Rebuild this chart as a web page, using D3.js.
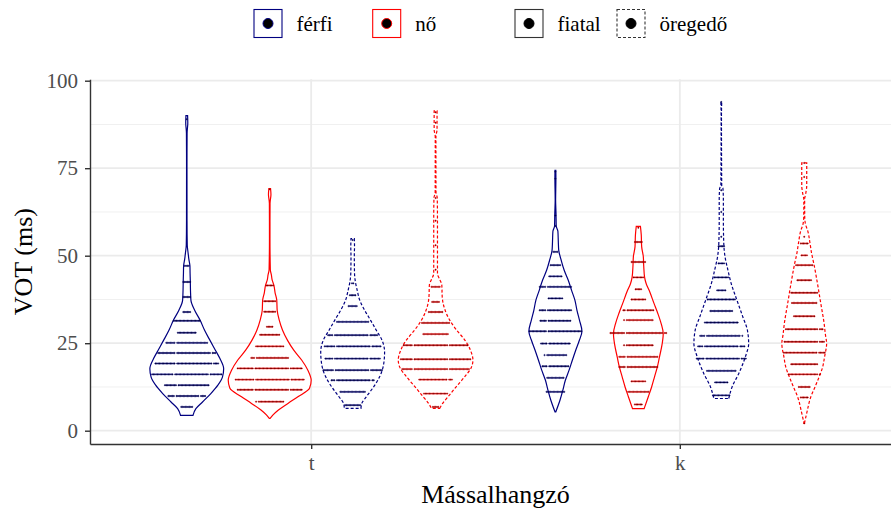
<!DOCTYPE html>
<html>
<head>
<meta charset="utf-8">
<script src="https://cdn.jsdelivr.net/npm/d3@7"></script>
<style>
  body { margin: 0; background: #fff; }
  svg { display: block; }
  text { font-family: "Liberation Serif", "Times New Roman", serif; }
</style>
</head>
<body>
<svg id="chart" width="891" height="514"></svg>
<script>
// ---- categories and tick labels ----
const consonants = ["t", "k"];
const sexes = ["férfi", "nő"];
const ages = ["fiatal", "öregedő"];
const yTicks = [0, 25, 50, 75, 100];
const yMinorTicks = [12.5, 37.5, 62.5, 87.5];
const xTitle = "Mássalhangzó";
const yTitle = "VOT (ms)";

// ---- violin profiles: [VOT (ms), relative density] ----
const densTFerfiFiatal = [[4.4,0.15],[6.3,0.22],[8.2,0.38],[10.6,0.58],[13,0.75],[15.3,0.86],[17.7,0.89],[20.6,0.8],[23,0.69],[25.8,0.56],[28.7,0.43],[31.6,0.32],[34.4,0.19],[37.3,0.1],[40,0.09],[43,0.085],[45,0.08],[47,0.077],[49,0.05],[51,0.03],[53,0.012],[60,0.006],[75,0.005],[85,0.008],[88,0.025],[90,0.02]];
const densTNoFiatal = [[3.5,0.01],[4.5,0.08],[5.9,0.21],[7.8,0.44],[9.7,0.68],[12.1,0.96],[14.4,1.0],[17.3,0.92],[20.2,0.77],[23,0.58],[25.8,0.43],[28.7,0.31],[31.6,0.23],[34.4,0.18],[37.3,0.17],[39.4,0.13],[41.6,0.1],[43,0.06],[44.5,0.04],[46,0.015],[55,0.006],[65,0.008],[67.5,0.03],[69.2,0.02]];
const densTFerfiOreg = [[6.4,0.2],[7.8,0.22],[9.7,0.33],[12.6,0.51],[15.4,0.65],[19.2,0.75],[22.5,0.77],[25.8,0.71],[28.7,0.57],[31.6,0.43],[34.4,0.29],[37.3,0.17],[40.1,0.11],[43,0.06],[45,0.045],[50,0.04],[52.5,0.045],[54.9,0.04]];
const densTNoOreg = [[6.4,0.1],[7.8,0.17],[9.7,0.3],[12.6,0.5],[15.4,0.7],[18.3,0.87],[20.2,0.9],[23,0.84],[25.8,0.71],[28.7,0.51],[31.6,0.34],[34.4,0.23],[38.2,0.16],[41.6,0.15],[43.2,0.1],[44.9,0.045],[50,0.045],[55,0.045],[60,0.045],[66.5,0.04],[68,0.01],[84,0.008],[86,0.035],[91.4,0.035]];
const densKFerfiFiatal = [[5.4,0.01],[8.7,0.11],[11.6,0.18],[14.4,0.24],[17.3,0.33],[20.2,0.41],[23,0.49],[25.9,0.58],[28.4,0.64],[31.6,0.58],[34.4,0.52],[37.3,0.47],[40.1,0.39],[43,0.31],[45.9,0.21],[48.7,0.14],[51.6,0.08],[54,0.07],[57,0.06],[58.5,0.02],[62,0.015],[66,0.005],[72,0.012],[74.4,0.01]];
const densKNoFiatal = [[6.3,0.14],[9.7,0.24],[12.5,0.32],[15.4,0.39],[18.3,0.46],[21.1,0.51],[24.5,0.57],[27.8,0.6],[30.6,0.55],[33.5,0.47],[36.3,0.38],[40.1,0.26],[42,0.19],[43.9,0.15],[47,0.13],[49.7,0.12],[52.6,0.08],[56,0.07],[58.4,0.05]];
const densKFerfiOreg = [[9.2,0.18],[12.5,0.26],[16.3,0.42],[21.1,0.58],[24.9,0.66],[28.7,0.63],[32.5,0.52],[38.2,0.35],[42,0.24],[45.9,0.16],[49.7,0.09],[53.5,0.06],[60,0.05],[66,0.05],[69.2,0.04],[70,0.01],[90,0.004],[93.9,0.01]];
const densKNoOreg = [[2.1,0.005],[5,0.06],[9.7,0.16],[12.5,0.26],[15.4,0.36],[18,0.44],[21.1,0.49],[24.9,0.54],[27.5,0.51],[30.6,0.48],[36.3,0.4],[42,0.32],[47.8,0.23],[50.5,0.18],[53.5,0.14],[57.3,0.08],[59,0.03],[61.1,0.012],[66,0.01],[68,0.04],[70,0.06],[76.5,0.06]];

// ---- dot rows: [VOT bin (ms), dot counts of each stacked run] ----
const dotsTFerfiFiatal = [[89,[1]],[47.1,[4]],[42.5,[6]],[38.2,[6]],[33.9,[6]],[31.4,[20]],[28.0,[14]],[25.1,[7,23]],[22.2,[13,25,3]],[19.2,[15,26,4]],[16.1,[16,25,9]],[13.0,[9,23]],[9.9,[5,17,4]],[6.8,[9]]];
const dotsTNoFiatal = [[69,[1]],[41.5,[6]],[37,[9]],[34,[9]],[29.7,[5]],[27.4,[15]],[24.1,[21]],[20.8,[3,24]],[17.8,[12,25,9]],[14.6,[14,25,10]],[11.7,[12,25,9]],[8.3,[1,19]]];
const dotsTFerfiOreg = [[54.5,[1]],[42.1,[2]],[38.7,[5]],[35.6,[7]],[31.1,[24]],[27.3,[4,25,6]],[24.1,[8,25,7]],[20.6,[6,25,8]],[17.3,[8,25,9]],[14.4,[3,25,2]],[11.1,[19]],[7.3,[12]]];
const dotsTNoOreg = [[91,[1]],[88,[1]],[66.5,[1]],[60,[1]],[53,[1]],[46,[1]],[41.1,[7]],[36.8,[6]],[33.9,[11]],[30.8,[21]],[27.6,[19]],[24.4,[7,25,14]],[20.4,[9,25,16]],[17.6,[8,25,15]],[14.6,[21,3]],[10.6,[18]],[6.8,[5]]];
const dotsKFerfiFiatal = [[74,[1]],[72,[1]],[61.5,[1]],[58.5,[1]],[51.1,[4]],[47.3,[8]],[44.1,[10]],[41.1,[5,18]],[37.8,[11]],[34.4,[5,18]],[31.4,[5,17]],[28.4,[13,25]],[24.9,[5,16]],[21.6,[1,15]],[18.4,[4,15]],[15.1,[13]],[11.1,[14]]];
const dotsKNoFiatal = [[58,[1]],[53.9,[6]],[48.2,[11]],[43.8,[8]],[40.4,[5]],[37.5,[11]],[34.4,[2,20]],[31.6,[1,20]],[27.9,[11,27,2]],[24.4,[1,20]],[21.1,[5,23]],[18.2,[5,23]],[14.1,[11]],[11.1,[16]],[7.5,[6]]];
const dotsKFerfiOreg = [[93.9,[1]],[68.7,[1]],[62.5,[1]],[55.4,[1]],[52.7,[5]],[47.8,[5]],[43.8,[11]],[40.1,[7]],[37.5,[21]],[34.2,[17]],[30.9,[25]],[27.1,[4,25,1]],[24.1,[4,25,4]],[20.6,[6,25,4]],[17.1,[22]],[13.8,[10]],[10.1,[13]]];
const dotsKNoOreg = [[76.5,[1]],[72.5,[1]],[55.4,[1]],[53.5,[6]],[50.1,[5]],[47.3,[13]],[43,[11]],[39.4,[20]],[36.5,[19]],[32.7,[16]],[29,[24,3]],[25.4,[25,4]],[22.3,[25,5]],[19,[20]],[16.1,[22,1]],[12.5,[9]],[9.5,[6]],[2.1,[1]]];

// ---- assemble one record per violin ----
const violins = [
  { cons: "t", sex: "férfi", age: "fiatal",  dens: densTFerfiFiatal, dots: dotsTFerfiFiatal },
  { cons: "t", sex: "nő",    age: "fiatal",  dens: densTNoFiatal,    dots: dotsTNoFiatal },
  { cons: "t", sex: "férfi", age: "öregedő", dens: densTFerfiOreg,   dots: dotsTFerfiOreg },
  { cons: "t", sex: "nő",    age: "öregedő", dens: densTNoOreg,      dots: dotsTNoOreg },
  { cons: "k", sex: "férfi", age: "fiatal",  dens: densKFerfiFiatal, dots: dotsKFerfiFiatal },
  { cons: "k", sex: "nő",    age: "fiatal",  dens: densKNoFiatal,    dots: dotsKNoFiatal },
  { cons: "k", sex: "férfi", age: "öregedő", dens: densKFerfiOreg,   dots: dotsKFerfiOreg },
  { cons: "k", sex: "nő",    age: "öregedő", dens: densKNoOreg,      dots: dotsKNoOreg }
];

// ---- layout ----
const panel = { left: 90, right: 901, top: 79.3, bottom: 444 };
const svg = d3.select("#chart");

const colour = d3.scaleOrdinal().domain(sexes).range(["#000080", "#ff0000"]);
const dash = d3.scaleOrdinal().domain(ages).range(["none", "3,2"]);

const x = d3.scalePoint().domain(consonants).range([panel.left, panel.right]).padding(0.6);
const dodgeKeys = [];
ages.forEach(a => sexes.forEach(s => dodgeKeys.push(s + "|" + a)));
const dodge = d3.scaleBand().domain(dodgeKeys)
  .range([-0.45 * x.step(), 0.45 * x.step()]);
const y = d3.scaleLinear().domain([-3.8, 100.4]).range([panel.bottom, panel.top]);
const halfW = d3.scaleLinear().domain([0, 1]).range([0, dodge.bandwidth() / 2]);

// ---- grid ----
const grid = svg.append("g");
grid.selectAll(".minor").data(yMinorTicks).join("line")
  .attr("x1", panel.left).attr("x2", panel.right)
  .attr("y1", d => y(d)).attr("y2", d => y(d))
  .attr("stroke", "#f0f0f0").attr("stroke-width", 1);
grid.selectAll(".major").data(yTicks).join("line")
  .attr("x1", panel.left).attr("x2", panel.right)
  .attr("y1", d => y(d)).attr("y2", d => y(d))
  .attr("stroke", "#ebebeb").attr("stroke-width", 1.8);
grid.selectAll(".vmajor").data(consonants).join("line")
  .attr("x1", d => x(d)).attr("x2", d => x(d))
  .attr("y1", panel.top).attr("y2", panel.bottom)
  .attr("stroke", "#ebebeb").attr("stroke-width", 1.8);

// ---- violins ----
const centre = v => x(v.cons) + dodge(v.sex + "|" + v.age) + dodge.bandwidth() / 2;

const vg = svg.append("g");
violins.forEach(v => {
  const cx = centre(v);
  const area = d3.area()
    .y(d => y(d[0]))
    .x0(d => cx - halfW(d[1]))
    .x1(d => cx + halfW(d[1]))
    .curve(d3.curveMonotoneY);
  vg.append("path")
    .datum(v.dens)
    .attr("d", area)
    .attr("fill", "#fff")
    .attr("stroke", colour(v.sex))
    .attr("stroke-width", 1.2)
    .attr("stroke-dasharray", dash(v.age));
});

// ---- dot stacks, centred on each violin ----
const pitch = 1.36;
const dg = svg.append("g");
violins.forEach(v => {
  const cx = centre(v);
  v.dots.forEach(([val, runs]) => {
    const slots = d3.sum(runs) + runs.length - 1;
    let i = 0;
    const pts = [];
    runs.forEach(n => {
      for (let k = 0; k < n; k++) pts.push(i++);
      i++;
    });
    dg.selectAll(null).data(pts).join("circle")
      .attr("cx", k => cx - slots * pitch / 2 + (k + 0.5) * pitch)
      .attr("cy", y(val))
      .attr("r", 0.72)
      .attr("fill", "#000")
      .attr("stroke", colour(v.sex))
      .attr("stroke-width", 0.5);
  });
});

// ---- axes ----
const axisColour = "#333333";
const yAxis = svg.append("g")
  .attr("transform", `translate(${panel.left},0)`)
  .call(d3.axisLeft(y).tickValues(yTicks).tickSize(5).tickSizeOuter(0).tickPadding(7));
const xAxis = svg.append("g")
  .attr("transform", `translate(0,${panel.bottom})`)
  .call(d3.axisBottom(x).tickSize(5).tickSizeOuter(0).tickPadding(6));
[yAxis, xAxis].forEach(g => {
  g.select(".domain").attr("stroke", axisColour).attr("stroke-width", 1.4);
  g.selectAll(".tick line").attr("stroke", axisColour).attr("stroke-width", 1.4);
  g.selectAll(".tick text")
    .attr("fill", "#4d4d4d")
    .style("font-family", '"Liberation Serif", serif')
    .style("font-size", "21px");
});

// ---- axis titles ----
svg.append("text")
  .attr("x", (panel.left + panel.right) / 2).attr("y", 503)
  .attr("text-anchor", "middle")
  .attr("fill", "#000")
  .style("font-size", "26px")
  .text(xTitle);
svg.append("text")
  .attr("transform", `translate(32,${(panel.top + panel.bottom) / 2}) rotate(-90)`)
  .attr("text-anchor", "middle")
  .attr("fill", "#000")
  .style("font-size", "26px")
  .text(yTitle);

// ---- legend ----
const keySize = 28;
const legendItems = [
  { label: "férfi",   x: 254, stroke: colour("férfi"), dash: "none", dot: colour("férfi") },
  { label: "nő",      x: 372.7, stroke: colour("nő"), dash: "none", dot: colour("nő") },
  { label: "fiatal",  x: 515, stroke: "#333", dash: dash("fiatal"), dot: "#000" },
  { label: "öregedő", x: 617, stroke: "#333", dash: dash("öregedő"), dot: "#000" }
];
const lg = svg.append("g").attr("transform", "translate(0,9.5)");
legendItems.forEach(it => {
  lg.append("rect")
    .attr("x", it.x).attr("y", 0)
    .attr("width", keySize).attr("height", keySize)
    .attr("fill", "#fff")
    .attr("stroke", it.stroke)
    .attr("stroke-width", 1.1)
    .attr("stroke-dasharray", it.dash);
  lg.append("circle")
    .attr("cx", it.x + keySize / 2).attr("cy", keySize / 2)
    .attr("r", 5)
    .attr("fill", "#000")
    .attr("stroke", it.dot)
    .attr("stroke-width", 1);
  lg.append("text")
    .attr("x", it.x + keySize + 14.5).attr("y", keySize / 2 + 7.5)
    .attr("fill", "#000")
    .style("font-size", "21px")
    .text(it.label);
});
</script>
</body>
</html>
